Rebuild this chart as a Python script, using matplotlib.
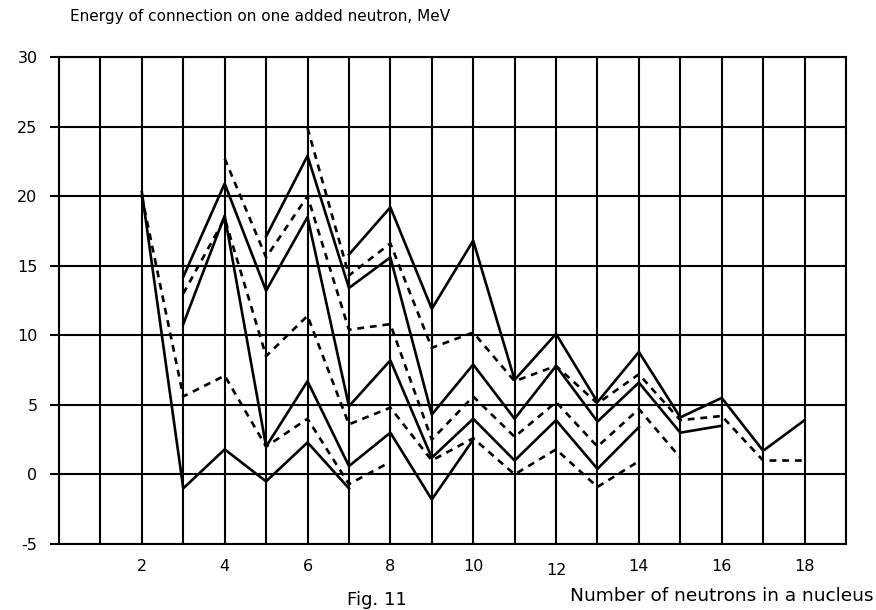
import matplotlib.pyplot as plt
from matplotlib.transforms import ScaledTranslation

# Neutron separation energy by element (x = neutron number, y = MeV)
he_n = [2, 3, 4, 5, 6, 7]
he_e = [20.3, -1.0, 1.8, -0.5, 2.3, -1.0]
li_n = [2, 3, 4, 5, 6, 7, 8]
li_e = [20.0, 5.6, 7.1, 2.0, 4.0, -0.7, 0.9]
be_n = [3, 4, 5, 6, 7, 8, 9, 10]
be_e = [10.8, 18.6, 2.0, 6.7, 0.6, 3.0, -1.8, 2.5]
b_n = [3, 4, 5, 6, 7, 8, 9, 10, 11, 12, 13, 14]
b_e = [13.0, 18.4, 8.5, 11.4, 3.6, 4.8, 1.0, 2.6, 0.0, 1.8, -0.9, 0.95]
c_n = [3, 4, 5, 6, 7, 8, 9, 10, 11, 12, 13, 14]
c_e = [14.2, 20.9, 13.2, 18.5, 4.9, 8.2, 1.2, 4.0, 1.0, 3.9, 0.4, 3.4]
n_n = [4, 5, 6, 7, 8, 9, 10, 11, 12, 13, 14, 15]
n_e = [22.7, 15.6, 20.0, 10.4, 10.8, 2.5, 5.6, 2.7, 5.2, 2.0, 4.7, 1.2]
o_n = [5, 6, 7, 8, 9, 10, 11, 12, 13, 14, 15, 16]
o_e = [17.1, 22.9, 13.4, 15.6, 4.3, 7.9, 4.0, 7.8, 3.8, 6.6, 3.0, 3.5]
f_n = [6, 7, 8, 9, 10, 11, 12, 13, 14, 15, 16, 17, 18]
f_e = [24.9, 14.3, 16.6, 9.1, 10.2, 6.7, 7.8, 5.1, 7.2, 3.9, 4.2, 1.0, 1.0]
ne_n = [7, 8, 9, 10, 11, 12, 13, 14, 15, 16, 17, 18]
ne_e = [15.8, 19.2, 11.9, 16.8, 6.8, 10.1, 5.2, 8.8, 4.1, 5.5, 1.7, 3.9]

x_ticks = [0, 1, 2, 3, 4, 5, 6, 7, 8, 9, 10, 11, 12, 13, 14, 15, 16, 17, 18, 19]
x_labels = ['', '', '2', '', '4', '', '6', '', '8', '', '10', '', '12', '', '14', '', '16', '', '18', '']
y_ticks = [-5, 0, 5, 10, 15, 20, 25, 30]

solid = [(he_n, he_e), (be_n, be_e), (c_n, c_e), (o_n, o_e), (ne_n, ne_e)]
dashed = [(li_n, li_e), (b_n, b_e), (n_n, n_e), (f_n, f_e)]

fig = plt.figure(figsize=(8.76, 6.1), dpi=100)
ax = fig.add_axes([59 / 876, 1 - 544 / 610, (846 - 59) / 876, (544 - 57) / 610])

grid_lw = 1.5
for xv in x_ticks:
    ax.axvline(xv, color='black', lw=grid_lw, zorder=1)
for yv in y_ticks:
    ax.axhline(yv, color='black', lw=grid_lw, zorder=1)

for xs, ys in solid:
    ax.plot(xs, ys, color='black', lw=1.9, zorder=3)
for xs, ys in dashed:
    ax.plot(xs, ys, color='black', lw=1.9, linestyle=(0, (2.6, 2.2)), zorder=3)

ax.set_xlim(0, 19)
ax.set_ylim(-5, 30)
ax.set_xticks(x_ticks)
ax.set_xticklabels(x_labels)
ax.set_yticks(y_ticks)
ax.set_yticklabels([str(v) for v in y_ticks])
ax.tick_params(axis='x', length=0, pad=11, labelsize=11.5)
ax.tick_params(axis='y', length=6.5, width=grid_lw, pad=9, labelsize=11.5)
for sp in ax.spines.values():
    sp.set_linewidth(grid_lw)
    sp.set_color('black')

# the "12" label sits a little lower in the original
lbl12 = ax.get_xticklabels()[12]
lbl12.set_transform(lbl12.get_transform() + ScaledTranslation(0, -3 / 72, fig.dpi_scale_trans))

fig.text(70 / 876, 1 - 16 / 610, 'Energy of connection on one added neutron, MeV',
         fontsize=11, ha='left', va='center')
fig.text(873 / 876, 1 - 596 / 610, 'Number of neutrons in a nucleus',
         fontsize=13.3, ha='right', va='center')
fig.text(377 / 876, 1 / 610, 'Fig. 11', fontsize=13, ha='center', va='bottom')

fig.savefig('out.png', dpi=100)
